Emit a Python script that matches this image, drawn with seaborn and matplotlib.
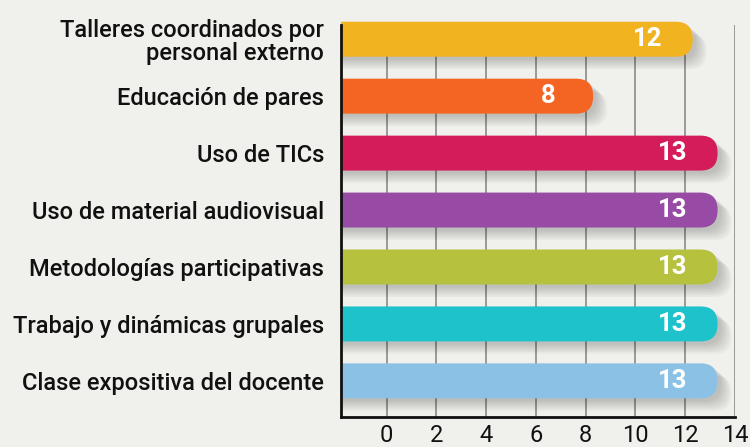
import matplotlib
matplotlib.use("Agg")
import matplotlib.pyplot as plt
import matplotlib.patheffects as pe
from matplotlib.patches import FancyBboxPatch, Rectangle
import seaborn as sns
import pandas as pd

categories = [
    "Talleres coordinados por\npersonal externo",
    "Educación de pares",
    "Uso de TICs",
    "Uso de material audiovisual",
    "Metodologías participativas",
    "Trabajo y dinámicas grupales",
    "Clase expositiva del docente",
]
values = [12, 8, 13, 13, 13, 13, 13]
colors = ["#F2B320", "#F46524", "#D41C5B", "#974BA5", "#B6C23E", "#1EC2CB", "#8BC1E5"]
xticks = [0, 2, 4, 6, 8, 10, 12, 14]

bg = "#F0F0EC"
sns.set_theme(style="white")
plt.rcParams["font.family"] = ["Roboto", "DejaVu Sans"]

fig = plt.figure(figsize=(7.5, 4.47), dpi=100, facecolor=bg)
ax = fig.add_axes([341 / 750, 1 - 417.3 / 447, (735 - 341) / 750, (417.3 - 25) / 447])
ax.set_facecolor(bg)

df = pd.DataFrame({"cat": categories, "val": values})
sns.barplot(data=df, y="cat", x="val", hue="cat", palette=colors, legend=False,
            orient="h", ax=ax, width=0.614)

xmin, xmax = -1.83, 14
ymin, ymax = 6.64, -0.25
ax.set_xlim(xmin, xmax)
ax.set_ylim(ymin, ymax)

# pixel scales for rounding
px_per_x = 394 / (xmax - xmin)
px_per_y = 392.3 / (ymin - ymax)
aspect = px_per_x / px_per_y
radius_px = 17.0
r_x = radius_px / px_per_x

clip_rect = Rectangle((0, -0.5), 1.5, 2.0, transform=ax.transAxes, visible=False)
ax.add_patch(clip_rect)

patches = list(ax.patches)
for p, v, c in zip([q for q in patches if q is not clip_rect], values, colors):
    y0 = p.get_y()
    h = p.get_height()
    p.remove()
    x0 = xmin - 1.0
    x1 = v + 0.3
    fb = FancyBboxPatch((x0, y0), x1 - x0, h,
                        boxstyle=f"round,pad=0,rounding_size={r_x}",
                        mutation_aspect=aspect,
                        facecolor=c, edgecolor="none", zorder=3)
    shadows = [pe.SimplePatchShadow(offset=(d, -d * 0.9), shadow_rgbFace="black", alpha=0.035)
               for d in (10, 8.5, 7, 5.5, 4, 2.5)]
    fb.set_path_effects(shadows + [pe.Normal()])
    ax.add_patch(fb)
    fb.set_clip_path(clip_rect)
    ax.annotate(str(v), xy=(v, y0 + h / 2), xytext=(-27, 0), textcoords="offset points",
                ha="center", va="center", color="white", fontsize=18.5, fontweight="bold",
                zorder=5, annotation_clip=False)

ax.set_xticks(xticks)
ax.set_xticklabels([str(t) for t in xticks], fontsize=17, color="#111111")
ax.tick_params(axis="x", length=0, pad=5)
ax.tick_params(axis="y", length=0, pad=12)
for lbl in ax.get_yticklabels():
    lbl.set_fontsize(17)
    lbl.set_fontweight("medium")
    lbl.set_color("#111111")
    lbl.set_linespacing(1.0)

ax.grid(axis="x", color="#999999", linewidth=1.4, zorder=0)
ax.grid(axis="y", visible=False)
ax.set_axisbelow(True)
ax.set_xlabel("")
ax.set_ylabel("")
for s in ["top", "right"]:
    ax.spines[s].set_visible(False)
for s in ["left", "bottom"]:
    ax.spines[s].set_color("#111111")
    ax.spines[s].set_linewidth(2)
    ax.spines[s].set_zorder(4)

fig.savefig("out.png", dpi=100, facecolor=bg)
